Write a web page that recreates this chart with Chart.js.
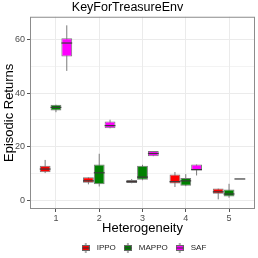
<!DOCTYPE html>
<html>
<head>
<meta charset="utf-8">
<script src="https://cdn.jsdelivr.net/npm/chart.js@4.4.0/dist/chart.umd.min.js"></script>
<style>
  html, body { margin: 0; padding: 0; background: #fff; }
  #wrap { width: 258px; height: 258px; }
</style>
</head>
<body>
<div id="wrap"><canvas id="chart1" width="258" height="258"></canvas></div>
<script>
// box stats per heterogeneity level, each entry: [min, q1, median, q3, max]
const heterogeneity = [1, 2, 3, 4, 5]
const methods = ['IPPO', 'MAPPO', 'SAF']

const ippo = [
  [10.2, 10.5, 11.7, 12.9, 15.1],
  [6.0, 6.6, 7.3, 8.6, 8.6],
  [6.4, 6.5, 7.0, 7.6, 8.0],
  [5.0, 6.3, 7.0, 9.7, 10.6],
  [0.4, 2.5, 3.2, 4.4, 4.4]
]
const mappo = [
  [32.9, 33.5, 34.7, 35.7, 35.7],
  [5.2, 6.0, 10.3, 13.4, 17.4],
  [7.5, 7.7, 8.7, 12.9, 13.3],
  [5.3, 5.5, 7.3, 8.4, 9.8],
  [1.0, 1.5, 2.4, 4.1, 6.2]
]
const saf = [
  [48.3, 53.7, 58.7, 60.5, 65.3],
  [26.9, 26.9, 27.9, 29.4, 30.1],
  [16.5, 16.5, 17.5, 18.4, 18.4],
  [9.3, 11.2, 11.5, 13.4, 13.4],
  [8.0, 8.0, 8.0, 8.0, 8.0]
]

const yTickLabels = [0, 20, 40, 60]
const yGridValues = [0, 10, 20, 30, 40, 50, 60]

const fills = ['#FF0000', '#008000', '#FF00FF']
const boxLine = '#7a7a7a'

Chart.defaults.font.family = '"Liberation Sans", Arial, sans-serif'

// little boxplot glyph for the legend keys
function makeKey(color){
  var c = document.createElement('canvas')
  c.width = 8
  c.height = 10
  var g = c.getContext('2d')
  g.strokeStyle = '#555'
  g.lineWidth = 1
  g.beginPath()
  g.moveTo(4, 0)
  g.lineTo(4, 10)
  g.stroke()
  g.fillStyle = color
  g.fillRect(0.5, 2.5, 7, 5)
  g.strokeStyle = '#666'
  g.strokeRect(0.5, 2.5, 7, 5)
  g.strokeStyle = '#333'
  g.beginPath()
  g.moveTo(0.5, 5)
  g.lineTo(7.5, 5)
  g.stroke()
  return c
}

function toDataset(name, stats, color){
  return {
    label: name,
    stats: stats,
    data: heterogeneity.map((h, i) => ({x: h, y: [stats[i][1], stats[i][3]]})),
    backgroundColor: color,
    borderColor: boxLine,
    borderWidth: 1,
    borderSkipped: false,
    categoryPercentage: 0.75,
    barPercentage: 1
  }
}

// whiskers under the boxes, medians and panel frame on top
const boxParts = {
  id: 'boxParts',
  beforeDatasetsDraw(chart){
    const ctx = chart.ctx
    const y = chart.scales.y
    ctx.save()
    ctx.strokeStyle = boxLine
    ctx.lineWidth = 1
    chart.data.datasets.forEach((ds, i) => {
      chart.getDatasetMeta(i).data.forEach((bar, j) => {
        const s = ds.stats[j]
        ctx.beginPath()
        ctx.moveTo(bar.x, y.getPixelForValue(s[0]))
        ctx.lineTo(bar.x, y.getPixelForValue(s[4]))
        ctx.stroke()
      })
    })
    ctx.restore()
  },
  afterDatasetsDraw(chart){
    const ctx = chart.ctx
    const y = chart.scales.y
    ctx.save()
    ctx.strokeStyle = '#3a3a3a'
    ctx.lineWidth = 1.2
    chart.data.datasets.forEach((ds, i) => {
      chart.getDatasetMeta(i).data.forEach((bar, j) => {
        const py = y.getPixelForValue(ds.stats[j][2])
        const half = bar.width / 2
        ctx.beginPath()
        ctx.moveTo(bar.x - half, py)
        ctx.lineTo(bar.x + half, py)
        ctx.stroke()
      })
    })
    const a = chart.chartArea
    ctx.strokeStyle = '#8c8c8c'
    ctx.lineWidth = 1
    ctx.strokeRect(a.left + 0.5, a.top + 0.5, a.right - a.left - 1, a.bottom - a.top - 1)
    ctx.restore()
  }
}

const config = {
  type: 'bar',
  data: {
    datasets: [
      toDataset(methods[0], ippo, fills[0]),
      toDataset(methods[1], mappo, fills[1]),
      toDataset(methods[2], saf, fills[2])
    ]
  },
  options: {
    responsive: false,
    animation: false,
    layout: { padding: { left: 0, right: 3, top: 0, bottom: -4 } },
    plugins: {
      tooltip: { enabled: false },
      title: {
        display: true,
        text: 'KeyForTreasureEnv',
        color: '#000',
        font: { size: 12.5, weight: 'normal', lineHeight: 1.1 },
        padding: { top: 1, bottom: 2 }
      },
      legend: {
        position: 'bottom',
        fullSize: false,
        labels: {
          usePointStyle: true,
          pointStyleWidth: 14,
          boxHeight: 8,
          padding: 5,
          color: '#1a1a1a',
          font: { size: 8 },
          generateLabels: (chart) => chart.data.datasets.map((ds, i) => ({
            text: ds.label,
            datasetIndex: i,
            pointStyle: makeKey(fills[i]),
            fillStyle: fills[i],
            strokeStyle: boxLine,
            fontColor: '#1a1a1a',
            hidden: false,
            lineWidth: 0
          }))
        }
      }
    },
    scales: {
      x: {
        type: 'linear',
        min: 0.4,
        max: 5.6,
        offset: false,
        afterBuildTicks: (s) => { s.ticks = heterogeneity.map(v => ({value: v})) },
        afterFit: (s) => { s.height = 30 },
        grid: {
          offset: false,
          color: '#ebebeb',
          tickColor: '#555',
          tickLength: 3
        },
        border: { display: false },
        ticks: {
          color: '#4d4d4d',
          font: { size: 9 },
          padding: 1,
          maxRotation: 0,
          callback: (v) => String(v)
        },
        title: {
          display: true,
          text: 'Heterogeneity',
          color: '#000',
          font: { size: 13 },
          padding: { top: 0, bottom: 3 }
        }
      },
      y: {
        min: -3.2,
        max: 68.5,
        afterBuildTicks: (s) => { s.ticks = yGridValues.map(v => ({value: v})) },
        afterFit: (s) => { s.width = 30 },
        grid: {
          color: '#ebebeb',
          lineWidth: (c) => yTickLabels.includes(c.tick && c.tick.value) ? 1 : 0.6,
          tickColor: (c) => yTickLabels.includes(c.tick && c.tick.value) ? '#555' : 'rgba(0,0,0,0)',
          tickLength: 3
        },
        border: { display: false },
        ticks: {
          color: '#4d4d4d',
          font: { size: 9 },
          padding: 2,
          callback: (v) => yTickLabels.includes(v) ? String(v) : ''
        },
        title: {
          display: true,
          text: 'Episodic Returns',
          color: '#000',
          font: { size: 13 },
          padding: { top: 2, bottom: 0 }
        }
      }
    }
  },
  plugins: [boxParts]
}

const myChart = new Chart(document.getElementById('chart1'), config)
</script>
</body>
</html>
